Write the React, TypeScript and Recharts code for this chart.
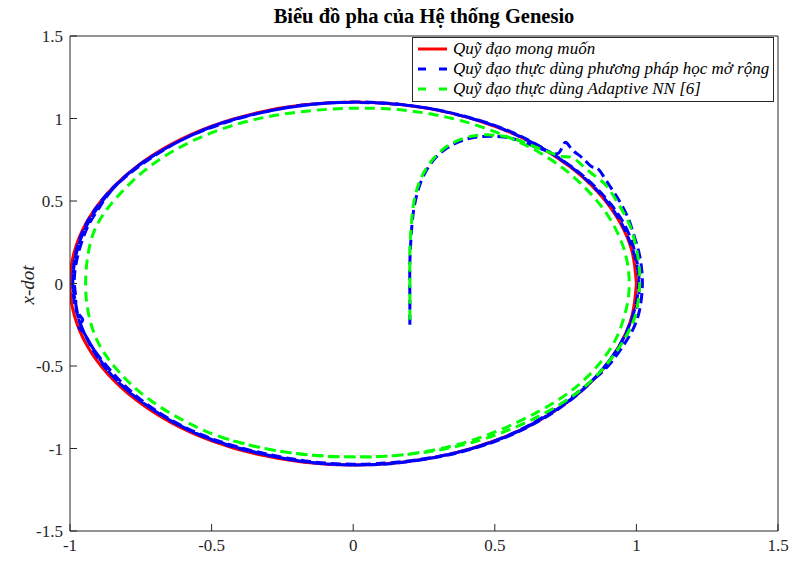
import { LineChart, Line, XAxis, YAxis, Legend } from 'recharts';

// phase portrait of the Genesio system
const xTicks = [-1, -0.5, 0, 0.5, 1, 1.5];
const yTicks = [-1.5, -1, -0.5, 0, 0.5, 1, 1.5];

const seriesNames = [
  'Quỹ đạo mong muốn',
  'Quỹ đạo thực dùng phương pháp học mở rộng',
  'Quỹ đạo thực dùng Adaptive NN [6]',
];

const desired = [
  [1.0, 0], [0.985, -0.191], [0.94, -0.376], [0.866, -0.55], [0.766, -0.707], [0.643, -0.843],
  [0.5, -0.953], [0.342, -1.034], [0.174, -1.083], [0.0, -1.1], [-0.174, -1.083], [-0.342, -1.034],
  [-0.5, -0.953], [-0.643, -0.843], [-0.766, -0.707], [-0.866, -0.55], [-0.94, -0.376], [-0.985, -0.191],
  [-1.0, 0], [-0.985, 0.191], [-0.94, 0.376], [-0.866, 0.55], [-0.766, 0.707], [-0.643, 0.843],
  [-0.5, 0.953], [-0.342, 1.034], [-0.174, 1.083], [0.0, 1.1], [0.174, 1.083], [0.342, 1.034],
  [0.5, 0.953], [0.643, 0.843], [0.766, 0.707], [0.866, 0.55], [0.94, 0.376], [0.985, 0.191], [1.0, 0],
];

const extended = [
  [0.2, -0.25], [0.2, -0.08], [0.2, 0.12], [0.205, 0.3], [0.215, 0.46], [0.24, 0.62], [0.28, 0.74],
  [0.33, 0.82], [0.39, 0.87], [0.45, 0.89], [0.52, 0.89], [0.58, 0.87], [0.64, 0.83], [0.69, 0.8],
  [0.725, 0.79], [0.745, 0.85], [0.76, 0.84], [0.78, 0.8], [0.81, 0.76], [0.84, 0.71], [0.86, 0.7],
  [0.88, 0.66], [0.91, 0.58], [0.94, 0.5], [0.97, 0.4], [0.99, 0.3], [1.01, 0.18], [1.02, 0.06],
  [1.02, -0.05], [1.01, -0.17], [0.99, -0.27], [0.96, -0.36], [0.91, -0.48], [0.85, -0.58],
  [0.77, -0.69], [0.66, -0.82], [0.52, -0.94], [0.35, -1.03], [0.17, -1.08], [0.0, -1.095],
  [-0.17, -1.075], [-0.34, -1.02], [-0.5, -0.94], [-0.64, -0.83], [-0.76, -0.69], [-0.85, -0.54],
  [-0.92, -0.39], [-0.95, -0.3], [-0.97, -0.26], [-0.955, -0.22], [-0.975, -0.17], [-0.98, -0.08],
  [-0.985, 0.02], [-0.975, 0.15], [-0.955, 0.27], [-0.93, 0.37], [-0.9, 0.45], [-0.86, 0.55],
  [-0.77, 0.7], [-0.65, 0.83], [-0.5, 0.95], [-0.34, 1.03], [-0.17, 1.08], [0.0, 1.1], [0.17, 1.085],
  [0.34, 1.035], [0.5, 0.955], [0.63, 0.855], [0.745, 0.74], [0.84, 0.61], [0.91, 0.48], [0.96, 0.35],
  [0.99, 0.22], [1.005, 0.1], [1.01, -0.02], [1.0, -0.14], [0.975, -0.26], [0.94, -0.38],
  [0.87, -0.54], [0.77, -0.7], [0.64, -0.845], [0.5, -0.955], [0.34, -1.035], [0.17, -1.085],
  [0.0, -1.1], [-0.17, -1.08], [-0.34, -1.025], [-0.5, -0.945], [-0.64, -0.835], [-0.76, -0.7],
  [-0.86, -0.54], [-0.93, -0.36], [-0.965, -0.24], [-0.98, -0.12], [-0.99, 0.0], [-0.98, 0.18],
  [-0.94, 0.37], [-0.865, 0.55], [-0.765, 0.705], [-0.64, 0.84], [-0.5, 0.95], [-0.34, 1.03],
  [-0.17, 1.08], [0.0, 1.098], [0.2, 1.078], [0.38, 1.02], [0.55, 0.925], [0.69, 0.8], [0.8, 0.665],
  [0.89, 0.51], [0.955, 0.34], [0.995, 0.16], [1.008, 0.0], [0.99, -0.18], [0.945, -0.36],
  [0.875, -0.53], [0.78, -0.69], [0.66, -0.83], [0.52, -0.945], [0.36, -1.03], [0.19, -1.08],
  [0.02, -1.1], [-0.15, -1.085], [-0.32, -1.035], [-0.48, -0.96], [-0.62, -0.855], [-0.74, -0.725],
  [-0.845, -0.57], [-0.92, -0.4], [-0.97, -0.21], [-0.99, -0.02], [-0.975, 0.2], [-0.925, 0.4],
  [-0.845, 0.58], [-0.74, 0.73], [-0.61, 0.865], [-0.46, 0.97], [-0.3, 1.045], [-0.14, 1.088],
  [0.02, 1.1],
];

const adaptiveNN = [
  [0.2, -0.22], [0.2, 0.0], [0.2, 0.2], [0.205, 0.35], [0.215, 0.5], [0.24, 0.64], [0.28, 0.75],
  [0.33, 0.83], [0.39, 0.88], [0.45, 0.9], [0.52, 0.895], [0.58, 0.87], [0.64, 0.83], [0.7, 0.79],
  [0.74, 0.77], [0.77, 0.765], [0.8, 0.73], [0.84, 0.67], [0.89, 0.6], [0.93, 0.5], [0.97, 0.38],
  [0.995, 0.25], [1.01, 0.1], [1.01, -0.05], [0.995, -0.2], [0.96, -0.33], [0.9, -0.48], [0.8, -0.65],
  [0.66, -0.8], [0.5, -0.92], [0.33, -1.0], [0.17, -1.04], [0.03, -1.05], [-0.12, -1.045],
  [-0.28, -1.01], [-0.45, -0.94], [-0.6, -0.83], [-0.73, -0.69], [-0.83, -0.53], [-0.9, -0.36],
  [-0.935, -0.18], [-0.945, 0.0], [-0.935, 0.19], [-0.9, 0.37], [-0.82, 0.55], [-0.71, 0.72],
  [-0.56, 0.87], [-0.38, 0.98], [-0.19, 1.04], [0.0, 1.062], [0.18, 1.05], [0.35, 1.0], [0.5, 0.92],
  [0.63, 0.82], [0.74, 0.7], [0.83, 0.56], [0.9, 0.41], [0.95, 0.24], [0.972, 0.08], [0.972, -0.08],
  [0.95, -0.24], [0.91, -0.39], [0.83, -0.56], [0.72, -0.71], [0.58, -0.84], [0.42, -0.95],
  [0.25, -1.02], [0.08, -1.05], [-0.1, -1.045], [-0.28, -1.01], [-0.45, -0.94],
];

const toPoints = (pairs: number[][]) => pairs.map(([x, y]) => ({ x, y }));

const font = 'Liberation Serif, DejaVu Serif, serif';
const tickStyle = { fontSize: 17, fill: '#262626', fontFamily: font };
const colors = ['#ff0000', '#0000ff', '#00ff00'];

function PhaseLegend() {
  return (
    <div
      style={{
        border: '1px solid #262626',
        background: '#fff',
        padding: '1px 4px 2px 3px',
        fontFamily: font,
        fontStyle: 'italic',
        fontSize: 17,
        color: '#000',
        lineHeight: '20px',
        whiteSpace: 'nowrap',
      }}
    >
      {seriesNames.map((name, i) => (
        <div key={name} style={{ display: 'flex', alignItems: 'center' }}>
          <svg width={34} height={10} style={{ marginRight: 3 }}>
            <line
              x1={2}
              y1={5}
              x2={31}
              y2={5}
              stroke={colors[i]}
              strokeWidth={3}
              strokeDasharray={i === 0 ? undefined : '8 13'}
            />
          </svg>
          <span>{name}</span>
        </div>
      ))}
    </div>
  );
}

export default function App() {
  return (
    <div style={{ position: 'absolute', left: 0, top: 0, width: 790, height: 561, background: '#fff' }}>
      <div
        style={{
          position: 'absolute',
          left: 70,
          width: 708,
          top: 5,
          textAlign: 'center',
          fontFamily: font,
          fontWeight: 'bold',
          fontSize: 20.5,
          color: '#000',
        }}
      >
        Biểu đồ pha của Hệ thống Genesio
      </div>
      <div
        style={{
          position: 'absolute',
          left: 28,
          top: 285,
          transform: 'translate(-50%, -50%) rotate(-90deg)',
          fontFamily: font,
          fontStyle: 'italic',
          fontSize: 19,
          color: '#262626',
          whiteSpace: 'nowrap',
        }}
      >
        x-dot
      </div>
      <LineChart width={790} height={561} margin={{ top: 35, right: 11, bottom: 0, left: 0 }}>
        <XAxis
          type="number"
          dataKey="x"
          domain={[-1, 1.5]}
          ticks={xTicks}
          allowDataOverflow
          height={30}
          tick={tickStyle}
          tickSize={-7}
          tickMargin={15}
          stroke="#262626"
        />
        <XAxis
          xAxisId="top"
          type="number"
          dataKey="x"
          orientation="top"
          domain={[-1, 1.5]}
          ticks={xTicks}
          allowDataOverflow
          height={1}
          tick={false}
          tickSize={-7}
          stroke="#262626"
        />
        <YAxis
          type="number"
          dataKey="y"
          domain={[-1.5, 1.5]}
          ticks={yTicks}
          allowDataOverflow
          width={70}
          tick={tickStyle}
          tickSize={-7}
          tickMargin={14}
          stroke="#262626"
        />
        <YAxis
          yAxisId="right"
          type="number"
          dataKey="y"
          orientation="right"
          domain={[-1.5, 1.5]}
          ticks={yTicks}
          allowDataOverflow
          width={1}
          tick={false}
          tickSize={-7}
          stroke="#262626"
        />
        <Legend
          layout="horizontal"
          verticalAlign="middle"
          align="center"
          content={() => <PhaseLegend />}
          wrapperStyle={{ top: 37, left: 412, right: 'auto', bottom: 'auto', width: 'auto' }}
        />
        {/* invisible copy on the mirrored axes so the box ticks get drawn */}
        <Line
          xAxisId="top"
          yAxisId="right"
          data={toPoints(desired)}
          dataKey="y"
          legendType="none"
          stroke="none"
          dot={false}
          activeDot={false}
          isAnimationActive={false}
        />
        <Line
          data={toPoints(desired)}
          dataKey="y"
          name={seriesNames[0]}
          type="natural"
          stroke={colors[0]}
          strokeWidth={3}
          dot={false}
          isAnimationActive={false}
        />
        <Line
          data={toPoints(extended)}
          dataKey="y"
          name={seriesNames[1]}
          type="natural"
          stroke={colors[1]}
          strokeWidth={3}
          strokeDasharray="10 5"
          dot={false}
          isAnimationActive={false}
        />
        <Line
          data={toPoints(adaptiveNN)}
          dataKey="y"
          name={seriesNames[2]}
          type="natural"
          stroke={colors[2]}
          strokeWidth={3}
          strokeDasharray="10 6"
          dot={false}
          isAnimationActive={false}
        />
      </LineChart>
    </div>
  );
}
